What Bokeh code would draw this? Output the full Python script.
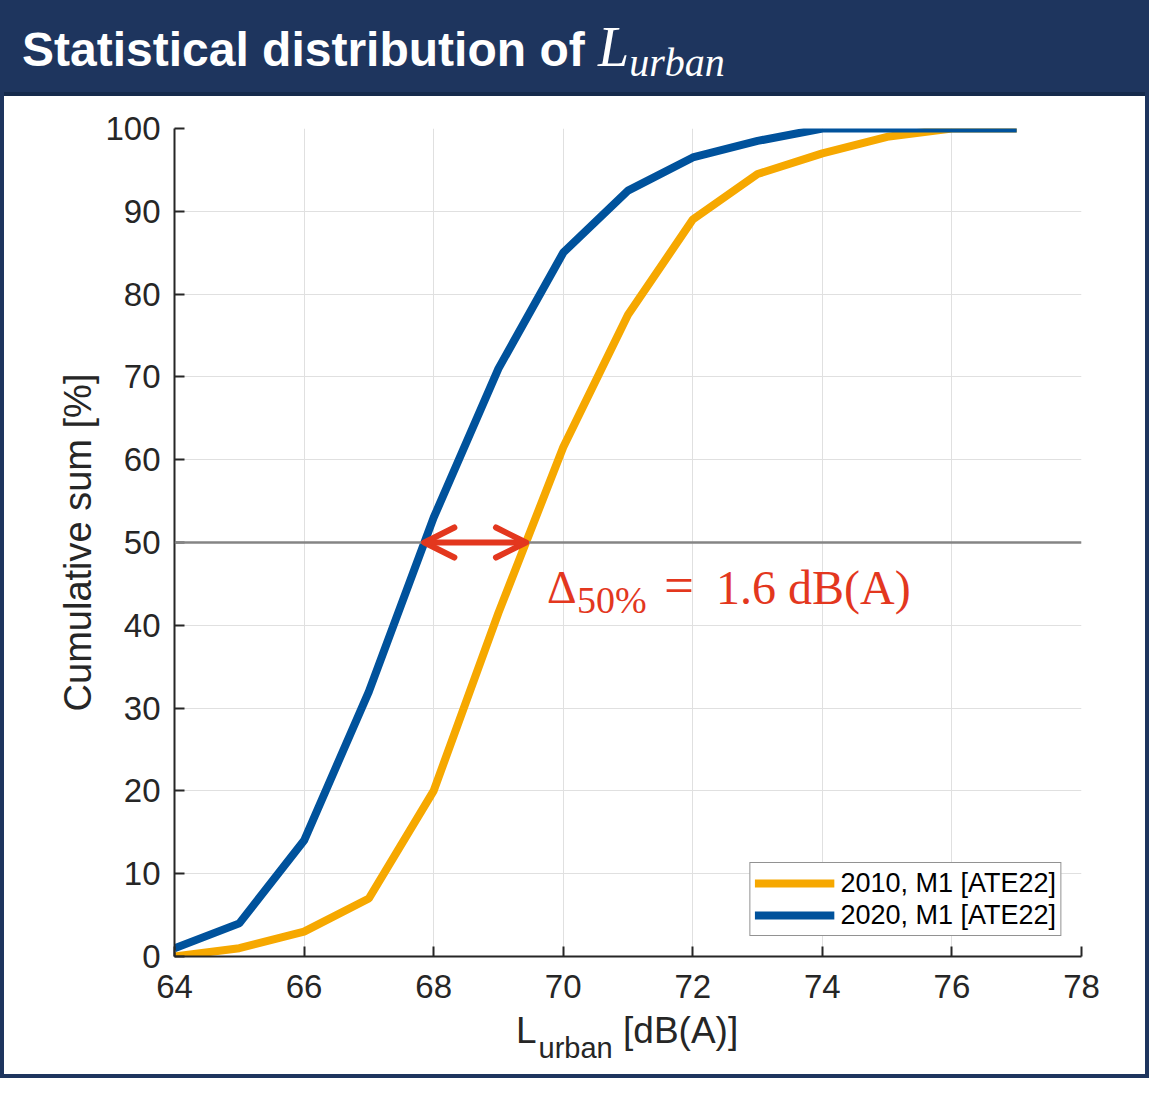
import numpy as np
from bokeh.plotting import figure
from bokeh.models import Div, Range1d, FixedTicker, Span, Arrow, OpenHead, Label
from bokeh.layouts import column
from bokeh.embed import file_html
from bokeh.resources import INLINE

# ---------------- data ----------------
x_levels = [64, 65, 66, 67, 68, 69, 70, 71, 72, 73, 74, 75, 76, 77]
cum_2010 = [0, 1, 3, 7, 20, 41.5, 61.5, 77.5, 89, 94.5, 97, 99, 100, 100]
cum_2020 = [1, 4, 14, 32, 53, 71, 85, 92.5, 96.5, 98.5, 100, 100, 100, 100]
series_labels = ["2010, M1 [ATE22]", "2020, M1 [ATE22]"]
x_ticks = [64, 66, 68, 70, 72, 74, 76, 78]
y_ticks = [0, 10, 20, 30, 40, 50, 60, 70, 80, 90, 100]
x_limits = (64, 78)
y_limits = (0, 100)
median_level = 50
delta_text_anchor = (69.75, 44.6)

# ---------------- styles ----------------
NAVY = "#1e355e"
NAVY_DARK = "#152a4c"
ORANGE = "#F6A800"
BLUE = "#00529C"
RED = "#E3371E"
AX = "#262626"
SANS = "Liberation Sans"
SERIF = "Liberation Serif"
INNER_W = 1141

title_html = (
    f"<div style=\"font-family:'{SANS}',Arial,sans-serif;font-weight:bold;font-size:48px;"
    "color:#ffffff;line-height:86px;padding-left:18px;white-space:nowrap;\">"
    "Statistical distribution of "
    f"<span style=\"font-family:'{SERIF}',serif;font-style:italic;font-weight:normal;font-size:56px;\">L"
    "<span style=\"font-size:40px;position:relative;top:10px;\">urban</span></span></div>"
)
title_div = Div(text=title_html, width=INNER_W, height=92,
                styles={"background": f"linear-gradient(to bottom, {NAVY} 0px, {NAVY} 88px, {NAVY_DARK} 88px)",
                        "margin": "0", "overflow": "hidden"})

p = figure(frame_width=907, frame_height=828,
           x_range=Range1d(*x_limits), y_range=Range1d(*y_limits),
           output_backend="svg", toolbar_location=None,
           min_border_left=170, min_border_right=64, min_border_top=32, min_border_bottom=56,
           background_fill_color="white", border_fill_color="white", outline_line_color=None)

for ax in (p.xaxis[0], p.yaxis[0]):
    ax.major_tick_in = 10
    ax.major_tick_out = 0
    ax.minor_tick_in = 0
    ax.minor_tick_out = 0
    ax.axis_line_width = 2
    ax.axis_line_color = AX
    ax.major_tick_line_width = 2
    ax.major_tick_line_color = AX
    ax.major_label_text_font = SANS
    ax.major_label_text_font_size = "33px"
    ax.major_label_text_color = AX

p.xaxis.ticker = FixedTicker(ticks=x_ticks)
p.yaxis.ticker = FixedTicker(ticks=y_ticks)
p.xaxis.major_label_standoff = 18
p.yaxis.major_label_standoff = 14
p.yaxis.axis_label = "Cumulative sum [%]"
p.yaxis.axis_label_text_font = SANS
p.yaxis.axis_label_text_font_style = "normal"
p.yaxis.axis_label_text_font_size = "38px"
p.yaxis.axis_label_text_color = AX
p.yaxis.axis_label_standoff = 3

p.grid.grid_line_color = "#e0e0e0"
p.grid.grid_line_width = 1

# 50 % reference line
p.add_layout(Span(location=median_level, dimension="width", line_color="#858585", line_width=2.5))

p.line(x_levels, cum_2010, line_color=ORANGE, line_width=8, legend_label=series_labels[0])
p.line(x_levels, cum_2020, line_color=BLUE, line_width=8, legend_label=series_labels[1])

# crossings of the 50 % level (from the data)
x50_2020 = float(np.interp(median_level, cum_2020[:5], x_levels[:5]))
x50_2010 = float(np.interp(median_level, cum_2010[:8], x_levels[:8]))
p.add_layout(Arrow(x_start=x50_2020, y_start=median_level, x_end=x50_2010, y_end=median_level,
                   line_color=RED, line_width=6, line_cap="round",
                   start=OpenHead(size=30, line_color=RED, line_width=6, line_cap="round", line_join="round"),
                   end=OpenHead(size=30, line_color=RED, line_width=6, line_cap="round", line_join="round")))

ax0, ay0 = delta_text_anchor
for txt, dx, dy, size in [("Δ", 0, 0, "46px"), ("50%", 30, -13, "38px"),
                          ("=", 117, 2, "53px"), ("1.6 dB(A)", 169, 0, "48px")]:
    p.add_layout(Label(x=ax0, y=ay0, x_offset=dx, y_offset=dy, text=txt,
                       text_font=SERIF, text_font_size=size, text_color=RED,
                       text_baseline="alphabetic", text_align="left"))

lg = p.legend[0]
lg.location = "bottom_right"
lg.margin = 20
lg.padding = 4
lg.spacing = 0
lg.glyph_width = 80
lg.glyph_height = 32
lg.label_height = 32
lg.label_standoff = 6
lg.label_text_font = SANS
lg.label_text_font_size = "27px"
lg.label_text_color = "#000000"
lg.border_line_color = AX
lg.border_line_width = 1
lg.background_fill_alpha = 1

# x-axis label with a real subscript
xlabel_html = (
    f"<div style=\"position:relative;height:62px;font-family:'{SANS}',Arial,sans-serif;color:{AX};\">"
    "<span style=\"position:absolute;left:512px;top:0px;font-size:37px;line-height:37px;white-space:nowrap;\">L"
    "<span style=\"font-size:29px;position:relative;top:15px;margin-left:2px;\">urban</span>"
    " [dB(A)]</span></div>"
)
xlabel_div = Div(text=xlabel_html, width=INNER_W, height=62,
                 styles={"background-color": "white", "margin": "0"})

layout = column(title_div, p, xlabel_div, spacing=0,
                styles={"border": f"4px solid {NAVY}", "background-color": "white"})

open("out.html", "w").write(file_html(layout, INLINE))
